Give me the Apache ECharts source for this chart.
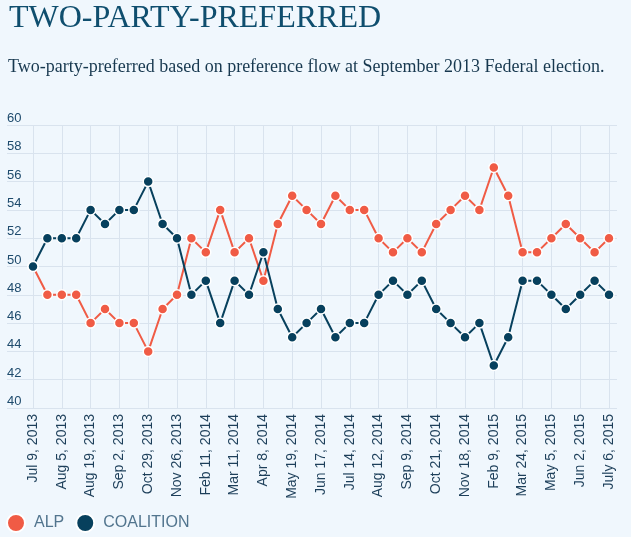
<!DOCTYPE html>
<html>
<head>
<meta charset="utf-8">
<script src="https://cdn.jsdelivr.net/npm/echarts@6/dist/echarts.min.js"></script>
<style>
html,body{margin:0;padding:0;background:#f0f7fd;}
#chart{width:631px;height:537px;}
</style>
</head>
<body>
<div id="chart"></div>
<script>
const categories = [
  "Jul 9, 2013","Jul 22, 2013","Aug 5, 2013","Aug 12, 2013","Aug 19, 2013","Aug 26, 2013",
  "Sep 2, 2013","Oct 15, 2013","Oct 29, 2013","Nov 12, 2013","Nov 26, 2013","Jan 28, 2014",
  "Feb 11, 2014","Feb 25, 2014","Mar 11, 2014","Mar 25, 2014","Apr 8, 2014","May 6, 2014",
  "May 19, 2014","Jun 3, 2014","Jun 17, 2014","Jun 30, 2014","Jul 14, 2014","Jul 28, 2014",
  "Aug 12, 2014","Aug 26, 2014","Sep 9, 2014","Sep 23, 2014","Oct 21, 2014","Nov 4, 2014",
  "Nov 18, 2014","Dec 2, 2014","Feb 9, 2015","Feb 23, 2015","Mar 24, 2015","Apr 7, 2015",
  "May 5, 2015","May 19, 2015","Jun 2, 2015","Jun 16, 2015","July 6, 2015"
];
const alp = [50,48,48,48,46,47,46,46,44,47,48,52,51,54,51,52,49,53,55,54,53,55,54,54,52,51,52,51,53,54,55,54,57,55,51,51,52,53,52,51,52];
const coalition = [50,52,52,52,54,53,54,54,56,53,52,48,49,46,49,48,51,47,45,46,47,45,46,46,48,49,48,49,47,46,45,46,43,45,49,49,48,47,48,49,48];
const yMin = 40, yMax = 60, yStep = 2;

const chart = echarts.init(document.getElementById('chart'), null, {renderer:'canvas'});
const gridLine = '#d9e3ee';
chart.setOption({
  backgroundColor: '#f0f7fd',
  animation: false,
  title: [
    {text: 'TWO-PARTY-PREFERRED', left: 4, top: -2,
     textStyle: {fontFamily: 'Liberation Serif', fontWeight: 'normal', fontSize: 32, color: '#0f4e6e'}},
    {text: 'Two-party-preferred based on preference flow at September 2013 Federal election.', left: 3, top: 53,
     textStyle: {fontFamily: 'Liberation Serif', fontWeight: 'normal', fontSize: 18, color: '#17384f'}}
  ],
  legend: {
    left: 1, top: 508, icon: 'circle', itemWidth: 18, itemHeight: 18, itemGap: 11,
    textStyle: {fontFamily: 'Liberation Sans', fontSize: 16, color: '#52758e', padding: [0, 0, 0, 4]},
    data: ['ALP', 'COALITION']
  },
  grid: [
    {left: 33, right: 22, top: 125, bottom: 129},
    {left: 7, right: 14, top: 125, bottom: 129}
  ],
  xAxis: [
    {type: 'category', gridIndex: 0, data: categories, boundaryGap: false,
     axisLine: {show: false}, axisTick: {show: false},
     axisLabel: {interval: 1, rotate: 90, margin: 6, fontFamily: 'Liberation Sans', fontSize: 14, color: '#1d3f5a'},
     splitLine: {show: true, interval: 1, lineStyle: {color: gridLine, width: 1}}},
    {type: 'value', gridIndex: 1, min: 0, max: 1, show: false}
  ],
  yAxis: [
    {type: 'value', gridIndex: 0, min: yMin, max: yMax, interval: yStep, show: false, splitLine: {show: false}},
    {type: 'value', gridIndex: 1, min: yMin, max: yMax, interval: yStep,
     axisLine: {show: false}, axisTick: {show: false},
     axisLabel: {inside: true, verticalAlign: 'bottom', margin: 0, fontFamily: 'Liberation Sans', fontSize: 13, color: '#1d4a6c'},
     splitLine: {show: true, lineStyle: {color: gridLine, width: 1}}}
  ],
  series: [
    {name: 'ALP', type: 'line', xAxisIndex: 0, yAxisIndex: 0, data: alp,
     symbol: 'circle', symbolSize: 10, showAllSymbol: true, color: '#f05b45',
     lineStyle: {width: 2, color: '#f05b45'},
     itemStyle: {color: '#f05b45', borderColor: '#ffffff', borderWidth: 1.5}},
    {name: 'COALITION', type: 'line', xAxisIndex: 0, yAxisIndex: 0, data: coalition,
     symbol: 'circle', symbolSize: 10, showAllSymbol: true, color: '#07405d',
     lineStyle: {width: 2, color: '#07405d'},
     itemStyle: {color: '#07405d', borderColor: '#ffffff', borderWidth: 1.5}}
  ]
});
</script>
</body>
</html>
